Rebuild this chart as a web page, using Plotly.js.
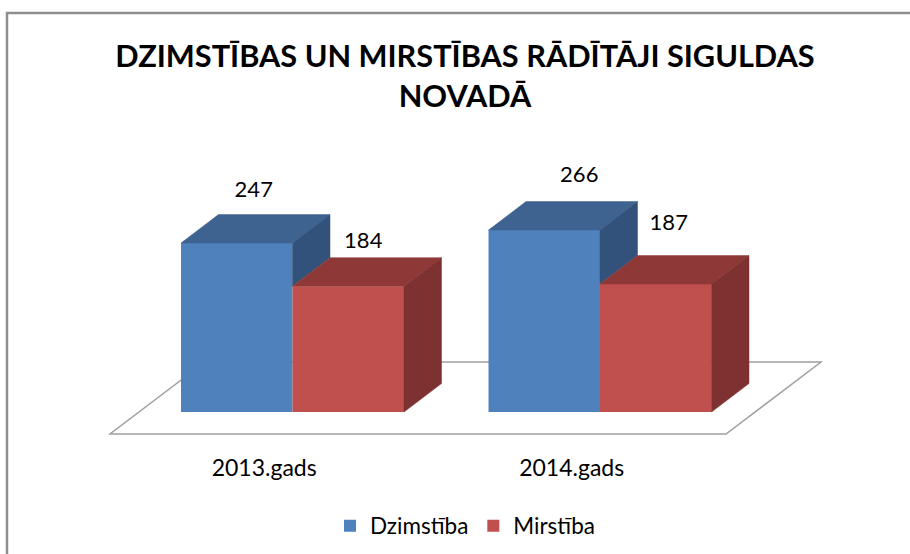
<!DOCTYPE html>
<html>
<head>
<meta charset="utf-8">
<script src="https://cdn.plot.ly/plotly-3.0.1.min.js"></script>
<style>html,body{margin:0;padding:0;background:#fff}#c{width:910px;height:554px}</style>
</head>
<body>
<div id="c"></div>
<script>
const categories = ['2013.gads', '2014.gads'];
const dzimstiba = [247, 266];
const mirstiba = [184, 187];

const seriesNames = ['Dzimstība', 'Mirstība'];
const titleText = 'DZIMSTĪBAS UN MIRSTĪBAS RĀDĪTĀJI SIGULDAS<br>NOVADĀ';

// Axis geometry: the pixel scale of the figure
const W = 910, H = 554;
const plotTop = 100, plotBottom = 445, baseline = 412;
const pxPerCat = 307.5, pxPerUnit = 0.684, cat0Px = 292.5;
const xr = [-cat0Px / pxPerCat, (W - cat0Px) / pxPerCat];
const yr = [(baseline - plotBottom) / pxPerUnit, (baseline - plotTop) / pxPerUnit];
const barW = 111.5 / pxPerCat;
const depthX = 37.5 / pxPerCat, depthY = 28.5 / pxPerUnit;
const px = v => (v - cat0Px) / pxPerCat;
const py = v => (baseline - v) / pxPerUnit;
const paperX = v => v / W;
const paperY = v => (plotBottom - v) / (plotBottom - plotTop);

function poly(xs, ys, color) {
  return {type: 'scatter', mode: 'lines', x: xs.concat(xs[0]), y: ys.concat(ys[0]), fill: 'toself',
    fillcolor: color, line: {color: color, width: 0.5}, showlegend: false, hoverinfo: 'skip'};
}
const faces = [];
categories.forEach((c, i) => {
  const b = dzimstiba[i], r = mirstiba[i];
  const l = i - barW, m = i, e = i + barW;
  faces.push(poly([l, m, m + depthX, l + depthX], [b, b, b + depthY, b + depthY], '#3f6390'));
  faces.push(poly([m, m + depthX, m + depthX, m], [b, b + depthY, r + depthY, r], '#32527b'));
  faces.push(poly([m, e, e + depthX, m + depthX], [r, r, r + depthY, r + depthY], '#8e3937'));
  faces.push(poly([e, e + depthX, e + depthX, e], [r, r + depthY, depthY, 0], '#7d3130'));
});

// Label offsets from each bar's front-top centre, in pixels
const labelDx = [[17, 15], [35, 13]];
const labelDy = [[52, 44], [54, 60]];
const lx = [], ly = [], lt = [];
categories.forEach((c, i) => {
  [[dzimstiba[i], -barW / 2], [mirstiba[i], barW / 2]].forEach(([v, off], k) => {
    lx.push(i + off + labelDx[i][k] / pxPerCat);
    ly.push(v + labelDy[i][k] / pxPerUnit);
    lt.push(String(v));
  });
});

const traces = [
  {type: 'bar', name: seriesNames[0], x: [0, 1], y: dzimstiba, marker: {color: '#4f81bd'}, hoverinfo: 'skip'},
  {type: 'bar', name: seriesNames[1], x: [0, 1], y: mirstiba, marker: {color: '#c0504d'}, hoverinfo: 'skip'},
  ...faces,
  {type: 'scatter', mode: 'text', x: lx, y: ly, text: lt, textposition: 'middle center',
    textfont: {family: 'Lato', size: 22, color: '#000'}, showlegend: false, hoverinfo: 'skip', cliponaxis: false}
];

const floor = 'M ' + [[110, 434], [726, 434], [821, 362], [205, 362]]
  .map(p => px(p[0]) + ',' + py(p[1])).join(' L ') + ' Z';
const frame = 'M ' + [[7, 560], [7, 13], [915, 13]]
  .map(p => paperX(p[0]) + ',' + paperY(p[1])).join(' L ');

const layout = {
  width: W, height: H,
  margin: {l: 0, r: 0, t: plotTop, b: H - plotBottom, pad: 0},
  paper_bgcolor: '#fff', plot_bgcolor: 'rgba(0,0,0,0)',
  font: {family: 'Lato', color: '#000'},
  title: {text: titleText, font: {family: 'Lato', size: 30.7, color: '#000', weight: 700},
    x: 465 / W, xanchor: 'center', y: 0.879, yanchor: 'middle'},
  barmode: 'group', bargap: 1 - 2 * barW, bargroupgap: 0,
  xaxis: {range: xr, tickmode: 'array', tickvals: [-0.092, 0.908], ticktext: categories,
    ticks: 'outside', ticklen: 2, tickcolor: 'rgba(0,0,0,0)', tickfont: {family: 'Lato', size: 23, color: '#000'},
    showgrid: false, zeroline: false, showline: false, fixedrange: true},
  yaxis: {range: yr, visible: false, showgrid: false, zeroline: false, fixedrange: true},
  legend: {orientation: 'h', x: 465 / W, xanchor: 'center', y: paperY(526), yref: 'paper', yanchor: 'middle',
    font: {family: 'Lato', size: 22.5, color: '#000'}, bgcolor: 'rgba(0,0,0,0)', itemwidth: 30, traceorder: 'normal'},
  shapes: [
    {type: 'path', xref: 'x', yref: 'y', layer: 'below', path: floor,
      line: {color: '#a0a0a0', width: 1.5}, fillcolor: '#fff'},
    {type: 'path', xref: 'paper', yref: 'paper', layer: 'below', path: frame,
      line: {color: '#8f8f8f', width: 2.5}}
  ],
  showlegend: true
};
Plotly.newPlot('c', traces, layout, {displayModeBar: false, staticPlot: true});
</script>
</body>
</html>
